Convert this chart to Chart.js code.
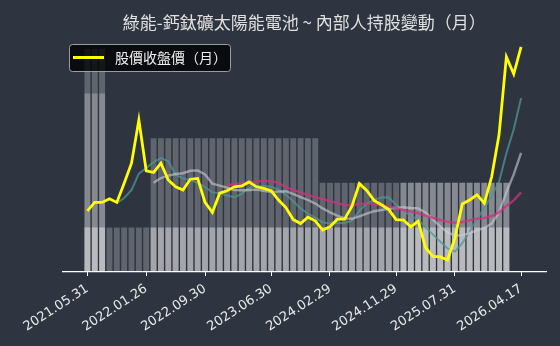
<!DOCTYPE html>
<html>
<head>
<meta charset="utf-8">
<script src="https://cdn.jsdelivr.net/npm/chart.js@4/dist/chart.umd.min.js"></script>
<style>
  html, body { margin: 0; padding: 0; background: #2e3540; }
</style>
</head>
<body>
<canvas id="canvas" width="560" height="346"></canvas>
<script>
// x ticks (month index -> date label), 60 months 2021.05 .. 2026.04
let tickIdx = [0, 8, 16, 25, 33, 42, 50, 59];
let tickLabels = ['2021.05.31', '2022.01.26', '2022.09.30', '2023.06.30',
                  '2024.02.29', '2024.11.29', '2025.07.31', '2026.04.17'];

// monthly close (relative units)
let price = [15.3, 17.4, 17.4, 18.3, 17.4, 22.2, 27.2, 38.0, 25.3, 24.9,
             27.2, 23.0, 21.3, 20.5, 23.2, 23.4, 17.4, 14.9, 19.7, 20.3,
             21.3, 21.5, 22.5, 21.3, 20.9, 20.3, 18.0, 16.1, 13.1, 12.1,
             13.7, 12.8, 10.5, 11.3, 13.2, 13.2, 16.5, 22.1, 20.4, 17.9,
             16.8, 15.6, 13.1, 13.0, 11.3, 12.7, 6.1, 3.9, 3.8, 3.0,
             8.5, 17.0, 18.0, 19.3, 17.2, 23.8, 34.3, 53.8, 49.5, 56.3];

// the three faint average lines
let avgShort = [null, null, null, null, 17.2, 18.5, 20.5, 24.6, 26.0, 27.5,
                28.5, 27.7, 24.3, 23.4, 23.0, 22.3, 21.2, 19.9, 19.7, 19.1,
                18.7, 19.5, 21.1, 21.4, 21.5, 21.3, 20.6, 19.3, 17.7, 15.9,
                14.6, 13.6, 12.4, 12.1, 12.3, 12.2, 12.9, 15.3, 17.1, 18.0,
                18.7, 18.6, 16.8, 15.3, 14.0, 13.1, 11.2, 9.4, 7.6, 5.9,
                5.1, 7.2, 10.1, 13.2, 16.0, 19.1, 22.5, 29.7, 35.7, 43.5];
let avgMid = [null, null, null, null, null, null, null, null, null, 22.3,
              23.5, 24.1, 24.5, 24.7, 25.3, 25.4, 24.4, 22.1, 21.6, 21.1,
              20.5, 20.4, 20.5, 20.6, 20.3, 20.0, 20.1, 20.2, 19.5, 18.7,
              18.0, 17.1, 15.9, 14.9, 14.1, 13.4, 13.3, 13.9, 14.6, 15.2,
              15.5, 15.8, 16.0, 16.2, 16.0, 15.9, 14.9, 13.1, 11.4, 9.9,
              9.1, 9.2, 9.7, 10.4, 11.0, 12.1, 14.9, 19.9, 24.4, 29.8];
let avgLong = [null, null, null, null, null, null, null, null, null, null,
               null, null, null, null, null, null, null, null, null, 21.7,
               22.0, 22.2, 22.5, 22.6, 22.8, 22.7, 22.3, 21.2, 20.5, 19.9,
               19.2, 18.7, 18.2, 17.7, 17.2, 16.7, 16.7, 17.0, 17.1, 16.9,
               16.7, 16.4, 16.0, 15.5, 15.1, 14.7, 14.1, 13.5, 13.0, 12.6,
               12.3, 12.5, 12.9, 13.3, 13.5, 14.0, 14.9, 16.5, 17.9, 19.9];

// insider holding bars (levels), months 0..57, drawn on top of each other
let holdA = [5, 5, 5, 0, 0, 0, 0, 0, 0, 3,
             3, 3, 3, 3, 3, 3, 3, 3, 3, 3,
             3, 3, 3, 3, 3, 3, 3, 3, 3, 3,
             3, 3, 2, 2, 2, 2, 2, 2, 2, 2,
             2, 2, 2, 2, 2, 2, 2, 2, 2, 2,
             2, 2, 2, 2, 2, 2, 2, 2];
let holdB = [4, 4, 4, 0, 0, 0, 0, 0, 0, 0,
             0, 0, 0, 0, 0, 0, 0, 0, 0, 0,
             0, 0, 0, 0, 0, 0, 0, 0, 0, 0,
             0, 0, 0, 0, 0, 0, 0, 0, 0, 0,
             0, 0, 0, 2, 2, 2, 2, 2, 2, 2,
             2, 2, 2, 2, 2, 2, 2, 2];
let holdC = [1, 1, 1, 1, 1, 1, 1, 1, 1, 1,
             1, 1, 1, 1, 1, 1, 1, 1, 1, 1,
             1, 1, 1, 1, 1, 1, 1, 1, 1, 1,
             1, 1, 1, 1, 1, 1, 1, 1, 1, 1,
             1, 1, 1, 1, 1, 1, 1, 1, 1, 1,
             1, 1, 1, 1, 1, 1, 1, 1];
let holdD = [1, 1, 1, 0, 0, 0, 0, 0, 0, 1,
             1, 1, 1, 1, 1, 1, 1, 1, 1, 1,
             1, 1, 1, 1, 1, 1, 1, 1, 1, 1,
             1, 1, 1, 1, 1, 1, 1, 1, 1, 1,
             1, 1, 1, 1, 1, 1, 1, 1, 1, 1,
             1, 1, 1, 1, 1, 1, 1, 1];

// turn a list into {x, y} points on the month axis
function pts(list) {
  let out = [];
  for (let i = 0; i < list.length; i++) {
    if (list[i] !== null) out.push({ x: i, y: list[i] });
  }
  return out;
}

let bg = '#2e3540';
let barFill = 'rgba(255,255,255,0.24)';

function barSet(list) {
  return {
    type: 'bar',
    data: pts(list),
    yAxisID: 'yHold',
    backgroundColor: barFill,
    borderWidth: 0,
    grouped: false,
    barPercentage: 0.8,
    categoryPercentage: 1.0,
    order: 10
  };
}

function lineSet(list, color, width, order) {
  return {
    type: 'line',
    data: pts(list),
    yAxisID: 'yPrice',
    borderColor: color,
    borderWidth: width,
    pointRadius: 0,
    fill: false,
    tension: 0,
    order: order
  };
}

// dark background behind everything
let paintBg = {
  id: 'paintBg',
  beforeDraw(chart) {
    let ctx = chart.ctx;
    ctx.save();
    ctx.fillStyle = bg;
    ctx.fillRect(0, 0, chart.width, chart.height);
    ctx.restore();
  }
};

// boxed legend in the upper left corner
let legendBox = {
  id: 'legendBox',
  afterDatasetsDraw(chart) {
    let ctx = chart.ctx;
    let x = 69.5, y = 44.5, w = 161, h = 27, r = 3;
    ctx.save();
    ctx.beginPath();
    ctx.roundRect(x, y, w, h, r);
    ctx.fillStyle = 'rgba(0,0,0,0.78)';
    ctx.fill();
    ctx.strokeStyle = 'rgba(170,170,170,0.9)';
    ctx.lineWidth = 1;
    ctx.stroke();
    ctx.beginPath();
    ctx.moveTo(73, 57.5);
    ctx.lineTo(104, 57.5);
    ctx.strokeStyle = '#ffff00';
    ctx.lineWidth = 3;
    ctx.stroke();
    ctx.fillStyle = '#eeeeee';
    ctx.font = '14px "Noto Sans CJK TC"';
    ctx.textBaseline = 'middle';
    ctx.fillText('股價收盤價（月）', 115, 58);
    ctx.restore();
  }
};

let options = {
  responsive: false,
  animation: false,
  layout: { padding: { left: 62.5, right: 14, top: 0, bottom: 0 } },
  plugins: {
    legend: { display: false },
    tooltip: { enabled: false },
    title: {
      display: true,
      fullSize: false,
      text: '綠能-鈣鈦礦太陽能電池 ~ 內部人持股變動（月）',
      color: '#e0e0e0',
      font: { family: 'Noto Sans CJK TC', size: 17, weight: 'normal' },
      padding: { top: 12.5, bottom: 12.3 }
    }
  },
  scales: {
    x: {
      type: 'linear',
      offset: false,
      min: -3.39,
      max: 62.39,
      afterBuildTicks: (s) => { s.ticks = tickIdx.map(v => ({ value: v })); },
      afterFit: (s) => { s.height = 74; },
      ticks: {
        autoSkip: false,
        minRotation: 33,
        maxRotation: 33,
        padding: 5,
        color: '#e8e8e8',
        font: { family: 'DejaVu Sans', size: 13 },
        callback: (v) => tickLabels[tickIdx.indexOf(v)]
      },
      grid: {
        display: true,
        offset: false,
        drawOnChartArea: false,
        drawTicks: true,
        tickLength: 4,
        color: '#ffffff',
        tickColor: '#ffffff'
      },
      border: { display: true, color: '#ffffff', width: 1.2 }
    },
    yHold: { display: false, min: 0, max: 5.085 },
    yPrice: { display: false, min: 0, max: 56.7 }
  }
};

let chart = new Chart(document.getElementById('canvas'), {
  data: {
    datasets: [
      lineSet(price, '#ffff00', 2.8, 0),
      lineSet(avgLong, 'rgba(205,50,130,0.75)', 2.4, 1),
      lineSet(avgMid, 'rgba(205,205,212,0.6)', 2.4, 2),
      lineSet(avgShort, 'rgba(80,150,150,0.75)', 2, 3),
      barSet(holdA),
      barSet(holdB),
      barSet(holdC),
      barSet(holdD)
    ]
  },
  options: options,
  plugins: [paintBg, legendBox]
});
</script>
</body>
</html>
